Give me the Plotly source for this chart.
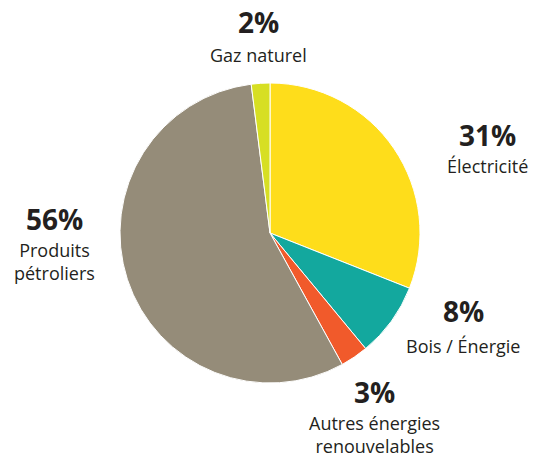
import plotly.graph_objects as go

W, H = 539, 458

categories = ["Électricité", "Bois / Énergie", "Autres énergies<br>renouvelables",
              "Produits<br>pétroliers", "Gaz naturel"]
values = [31, 8, 3, 56, 2]
pct_labels = ["31%", "8%", "3%", "56%", "2%"]
colors = ["#FEDD1B", "#13A89E", "#F15A2B", "#958C79", "#D7DF23"]

# label positions in pixels (center x, center y of percent, center y of name)
label_pos = [
    (487, 135, 166),
    (463, 311, 346),
    (374, 392, 434),
    (54, 219, 261),
    (258, 22, 55),
]

cx, cy, r = 270, 233, 150

fig = go.Figure(go.Pie(
    values=values,
    labels=[c.replace("<br>", " ") for c in categories],
    sort=False,
    direction="clockwise",
    rotation=0,
    marker=dict(colors=colors, line=dict(color="white", width=1)),
    textinfo="none",
    hoverinfo="label+percent",
    showlegend=False,
    domain=dict(x=[(cx - r) / W, (cx + r) / W], y=[1 - (cy + r) / H, 1 - (cy - r) / H]),
))

font_fam = "Open Sans, sans-serif"
for cat, pct, (px, py1, py2) in zip(categories, pct_labels, label_pos):
    fig.add_annotation(x=px / W, y=1 - py1 / H, xref="paper", yref="paper",
                       text=f"<b>{pct}</b>", showarrow=False,
                       xanchor="center", yanchor="middle",
                       font=dict(family=font_fam, size=28, color="#231F20"))
    fig.add_annotation(x=px / W, y=1 - py2 / H, xref="paper", yref="paper",
                       text=cat, showarrow=False,
                       xanchor="center", yanchor="middle",
                       font=dict(family=font_fam, size=18, color="#231F20"))

fig.update_layout(width=W, height=H, margin=dict(l=0, r=0, t=0, b=0),
                  paper_bgcolor="white", plot_bgcolor="white")

fig.write_html("out.html", config={"displayModeBar": False},
               post_script="document.body.style.margin='0';")
